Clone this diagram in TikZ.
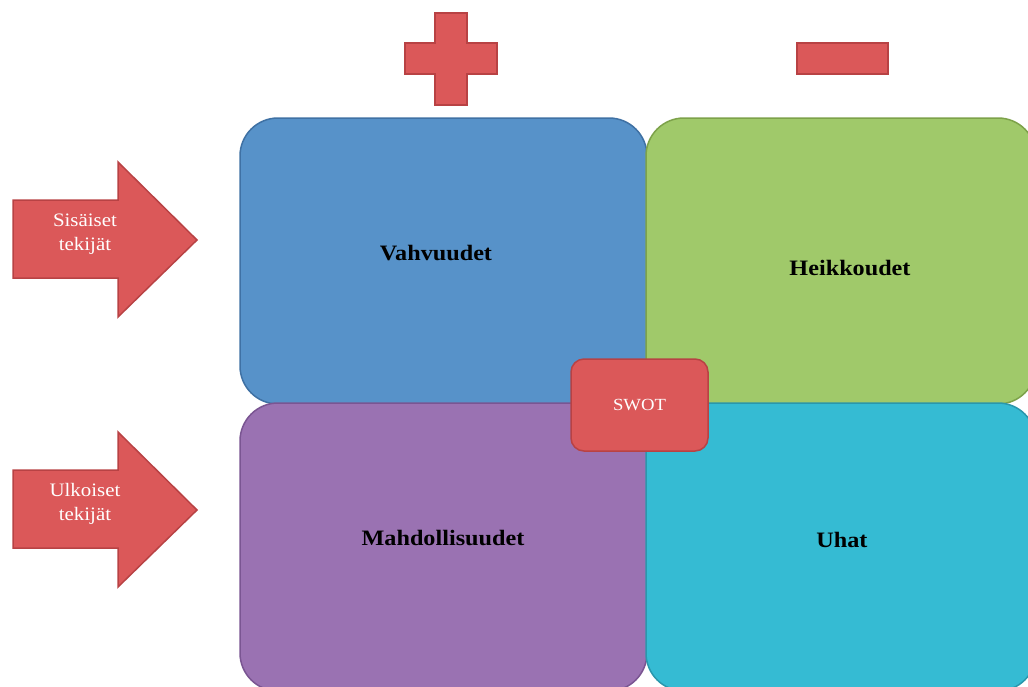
\documentclass[tikz,border=0pt]{standalone}
\usepackage{fontspec}
\setmainfont{Liberation Serif}
\newfontfamily\swotfont[FakeStretch=1.1]{Liberation Serif}
\begin{document}
\definecolor{blueFill}{HTML}{5792C9}
\definecolor{blueLine}{HTML}{3F71A4}
\definecolor{greenFill}{HTML}{A0C96A}
\definecolor{greenLine}{HTML}{7DA24A}
\definecolor{purpleFill}{HTML}{9A72B2}
\definecolor{purpleLine}{HTML}{7A5592}
\definecolor{cyanFill}{HTML}{35BBD3}
\definecolor{cyanLine}{HTML}{2A97AC}
\definecolor{redFill}{HTML}{DB5859}
\definecolor{redLine}{HTML}{B84244}
\begin{tikzpicture}[x=1pt,y=-1pt,
  quad/.style={rectangle, rounded corners=38pt, inner sep=0pt, line width=1.5pt,
    minimum width=#1},
  quadlabel/.style={font=\swotfont\bfseries\fontsize{22}{26}\selectfont, text=black, inner sep=0pt},
  redshape/.style={fill=redFill, draw=redLine, line width=1.5pt, line join=miter},
  arrowtext/.style={font=\swotfont\fontsize{19}{24}\selectfont, text=white, align=center, inner sep=0pt},
]
\useasboundingbox (0,0) rectangle (1028,686);
\clip (0,0) rectangle (1028,686);

% four quadrants, drawn so that later ones lie on top
\node[quad=407pt, minimum height=286pt, fill=blueFill, draw=blueLine]
  (strengths) at (443.5,261) {};
\node[quad=390pt, minimum height=286pt, fill=greenFill, draw=greenLine]
  (weaknesses) at (841,261) {};
\node[quad=407pt, minimum height=288pt, fill=purpleFill, draw=purpleLine]
  (opportunities) at (443.5,547) {};
\node[quad=390pt, minimum height=288pt, fill=cyanFill, draw=cyanLine]
  (threats) at (841,547) {};

\node[quadlabel] (strengthsText) at (436,253) {Vahvuudet};
\node[quadlabel] (weaknessesText) at (850,268) {Heikkoudet};
\node[quadlabel] (opportunitiesText) at (443,538) {Mahdollisuudet};
\node[quadlabel] (threatsText) at (842,540) {Uhat};

% centre badge
\node[rectangle, rounded corners=13pt, fill=redFill, draw=redLine, line width=1.5pt,
  minimum width=137pt, minimum height=92pt, inner sep=0pt,
  font=\swotfont\fontsize{17}{20}\selectfont, text=white]
  (swot) at (639.5,405) {SWOT};

% plus and minus signs above the columns
\draw[redshape] (435,13) -- (467,13) -- (467,43) -- (497,43) -- (497,74) -- (467,74)
  -- (467,105) -- (435,105) -- (435,74) -- (405,74) -- (405,43) -- (435,43) -- cycle;
\draw[redshape] (797,43) rectangle (888,74);

% block arrows beside the rows
\draw[redshape] (13,200) -- (118,200) -- (118,162) -- (197,240) -- (118,317)
  -- (118,278) -- (13,278) -- cycle;
\node[arrowtext] (internal) at (85,234) {Sisäiset\\tekijät};

\draw[redshape] (13,470) -- (118,470) -- (118,432) -- (197,510) -- (118,587)
  -- (118,548) -- (13,548) -- cycle;
\node[arrowtext] (external) at (85,504) {Ulkoiset\\tekijät};
\end{tikzpicture}
\end{document}
